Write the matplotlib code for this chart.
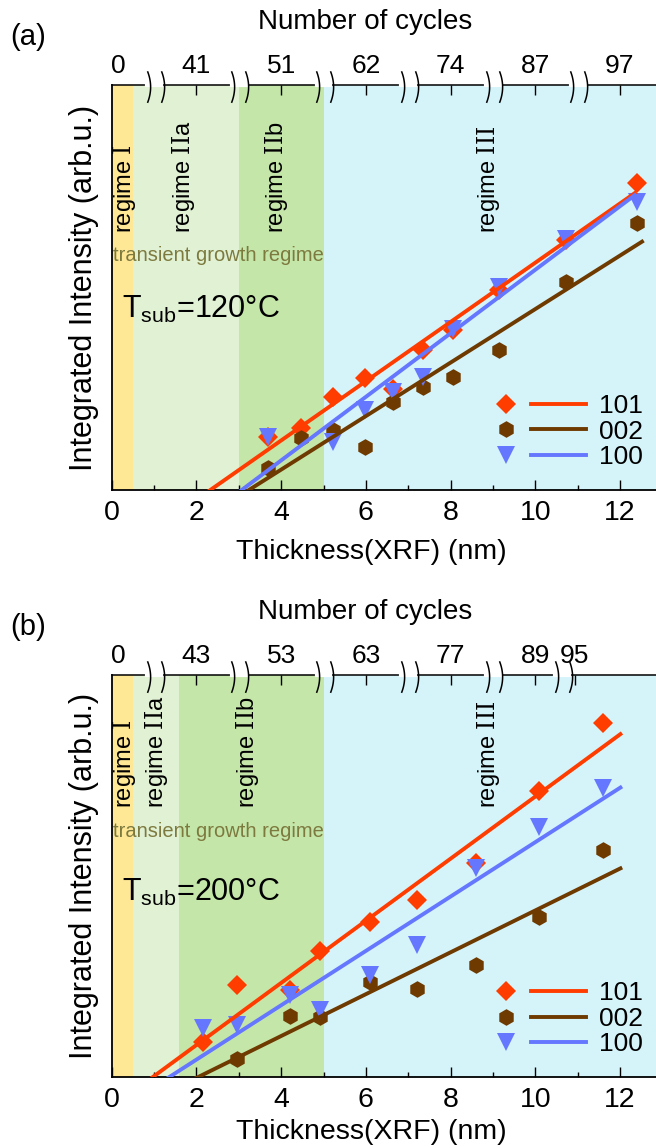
import matplotlib
matplotlib.use('Agg')
import matplotlib.pyplot as plt
import numpy as np
from matplotlib.path import Path
from matplotlib.legend_handler import HandlerTuple
from matplotlib.transforms import blended_transform_factory

plt.rcParams['font.family'] = ['Liberation Sans', 'DejaVu Sans']
plt.rcParams['mathtext.fontset'] = 'custom'
plt.rcParams['mathtext.rm'] = 'DejaVu Serif'

# ---- panel (a), Tsub = 120 C ----
thick_a = [3.68, 4.48, 5.22, 5.99, 6.64, 7.36, 8.06, 9.15, 10.73, 12.39]
i101_a = [0.132, 0.152, 0.229, 0.276, 0.249, 0.346, 0.395, 0.494, 0.617, 0.757]
i002_a = [0.054, 0.128, 0.148, 0.107, 0.218, 0.254, 0.280, 0.346, 0.514, 0.658]
i100_a = [0.130, np.nan, 0.119, 0.198, 0.243, 0.280, 0.397, 0.502, 0.619, 0.712]
# fitted lines: slope, intercept, end of line (nm)
fit101_a = (0.07315, -0.1704, 12.35)
fit002_a = (0.06606, -0.2140, 12.52)
fit100_a = (0.07845, -0.2408, 12.35)
regimes_a = [0.5, 3.0, 5.0]          # band edges
cyc_pos_a = [0.15, 2, 4, 6, 8, 10, 12]
cyc_lab_a = ['0', '41', '51', '62', '74', '87', '97']
breaks_a = [1, 3, 5, 7, 9, 11]
regime_x_a = [0.3, 1.7, 3.9, 8.9]

# ---- panel (b), Tsub = 200 C ----
thick_b = [2.16, 2.96, 4.21, 4.92, 6.09, 7.21, 8.60, 10.08, 11.59]
i101_b = [0.088, 0.229, 0.216, 0.314, 0.386, 0.440, 0.532, 0.711, 0.881]
i002_b = [np.nan, 0.044, 0.152, 0.149, 0.237, 0.218, 0.279, 0.397, 0.566]
i100_b = [0.121, 0.129, 0.204, 0.167, 0.254, 0.328, 0.519, 0.623, 0.718]
fit101_b = (0.07726, -0.0749, 12.01)
fit002_b = (0.05206, -0.1062, 12.01)
fit100_b = (0.06761, -0.0919, 12.01)
regimes_b = [0.5, 1.6, 5.0]
cyc_pos_b = [0.15, 2, 4, 6, 8, 10, 10.93]
cyc_lab_b = ['0', '43', '53', '63', '77', '89', '95']
breaks_b = [1, 3, 5, 7, 9, 10.64]
regime_x_b = [0.3, 1.06, 3.2, 8.9]

regime_names = ['regime $\\mathrm{I}$', 'regime $\\mathrm{II}$a',
                'regime $\\mathrm{II}$b', 'regime $\\mathrm{III}$']
band_colors = ['#FEE896', '#E0F1D4', '#C4E6A9', '#D4F4FA']
c101, c002, c100 = '#FF3D00', '#6E3A00', '#6677FF'
XMAX = 12.85

# ")" shaped mark for axis breaks
ys = np.linspace(-1, 0.82, 25)
xs = 0.18 * (1 - ((ys + 0.09) / 0.91) ** 2)
brk_mark = Path(np.column_stack([xs, ys]))


def panel(ax, thick, i101, i002, i100, fits, edges, cpos, clab, breaks,
          rx, rlab_y, trans_y, tsub, tsub_y):
    ax.set_xlim(0, XMAX)
    ax.set_ylim(0, 1)
    bounds = [0] + edges + [XMAX + 1]
    for k in range(4):
        ax.axvspan(bounds[k], bounds[k + 1], color=band_colors[k], lw=0, zorder=0)

    tr = blended_transform_factory(ax.transData, ax.transAxes)
    for xr, name in zip(rx, regime_names):
        ax.text(xr, rlab_y, name, rotation=90, ha='center', va='bottom',
                fontsize=17, transform=tr, zorder=1)
    ax.text(0.02, trans_y, 'transient growth regime', color='#7D7A3F',
            fontsize=14.5, va='center', ha='left', transform=tr, zorder=1)
    ax.text(0.24, tsub_y, 'T$_{\\mathregular{sub}}$=' + tsub, fontsize=22,
            va='baseline', transform=tr, zorder=1)

    m1, = ax.plot(thick, i101, ls='none', marker='D', ms=10, color=c101, mew=0, zorder=3)
    m2, = ax.plot(thick, i002, ls='none', marker='h', ms=12, color=c002, mew=0, zorder=3)
    m3, = ax.plot(thick, i100, ls='none', marker='v', ms=13, color=c100, mew=0, zorder=3)
    lines = []
    for (s, b, xe), c in zip(fits, [c101, c002, c100]):
        xx = np.array([0, xe])
        l, = ax.plot(xx, s * xx + b, color=c, lw=2.8, zorder=4)
        lines.append(l)

    ax.legend(handles=[(m1, lines[0]), (m2, lines[1]), (m3, lines[2])],
              labels=['101', '002', '100'],
              handler_map={tuple: HandlerTuple(ndivide=None, pad=-0.1)},
              loc='lower right', bbox_to_anchor=(0.995, 0.025), frameon=False,
              fontsize=19, handlelength=4.05, handletextpad=0.5,
              labelspacing=0.06, numpoints=1, borderaxespad=0)

    ax.set_yticks([])
    ax.set_xticks(range(0, 13, 2))
    ax.set_xticks(np.arange(1, 13, 2), minor=True)
    ax.tick_params(axis='x', which='major', direction='in', length=7, width=1,
                   labelsize=20.5, pad=7)
    ax.tick_params(axis='x', which='minor', direction='in', length=3.5, width=1)
    ax.spines['right'].set_visible(False)
    ax.spines['top'].set_visible(False)
    ax.spines['left'].set_linewidth(1.3)
    ax.spines['bottom'].set_linewidth(1.3)

    # number of cycles axis
    ax2 = ax.twiny()
    ax2.set_xlim(0, XMAX)
    ax2.set_xticks(cpos)
    ax2.set_xticklabels(clab)
    ax2.tick_params(axis='x', direction='in', length=7, width=1, labelsize=19, pad=5)
    ax2.xaxis.get_major_ticks()[0].tick2line.set_visible(False)
    for sp in ['left', 'right', 'bottom']:
        ax2.spines[sp].set_visible(False)
    ax2.spines['top'].set_linewidth(1.1)
    tr2 = blended_transform_factory(ax2.transData, ax2.transAxes)
    for xb in breaks:
        ax2.plot([xb - 0.165, xb + 0.165], [1, 1], color='white', lw=3,
                 transform=tr2, clip_on=False, zorder=5)
    pair = [xb + d for xb in breaks for d in (-0.175, 0.155)]
    ax2.plot(pair, [1] * len(pair), ls='none', marker=brk_mark, ms=25,
             mfc='none', mec='black', mew=1.1, transform=tr2, clip_on=False, zorder=6)


fig = plt.figure(figsize=(6.56, 11.48), dpi=100)
ax_a = fig.add_axes([0.1703, 0.5732, 0.8297, 0.3528])
ax_b = fig.add_axes([0.1703, 0.0618, 0.8297, 0.3502])

panel(ax_a, thick_a, i101_a, i002_a, i100_a, [fit101_a, fit002_a, fit100_a],
      regimes_a, cyc_pos_a, cyc_lab_a, breaks_a, regime_x_a, 0.635, 0.58,
      '120°C', 0.425)
panel(ax_b, thick_b, i101_b, i002_b, i100_b, [fit101_b, fit002_b, fit100_b],
      regimes_b, cyc_pos_b, cyc_lab_b, breaks_b, regime_x_b, 0.669, 0.612,
      '200°C', 0.437)

H = 1148.0
fig.text(28 / 656, 1 - 37 / H, '(a)', fontsize=21, ha='center', va='center')
fig.text(28 / 656, 1 - 627 / H, '(b)', fontsize=21, ha='center', va='center')
fig.text(365 / 656, 1 - 22 / H, 'Number of cycles', fontsize=20, ha='center', va='center')
fig.text(365 / 656, 1 - 612 / H, 'Number of cycles', fontsize=20, ha='center', va='center')
fig.text(371 / 656, 1 - 552 / H, 'Thickness(XRF) (nm)', fontsize=20.5, ha='center', va='center')
fig.text(371 / 656, 1 - 1132 / H, 'Thickness(XRF) (nm)', fontsize=20.5, ha='center', va='center')
fig.text(84 / 656, 1 - 287.5 / H, 'Integrated Intensity (arb.u.)', fontsize=22,
         rotation=90, ha='center', va='center')
fig.text(84 / 656, 1 - 876 / H, 'Integrated Intensity (arb.u.)', fontsize=22,
         rotation=90, ha='center', va='center')

fig.savefig('out.png', dpi=100)
